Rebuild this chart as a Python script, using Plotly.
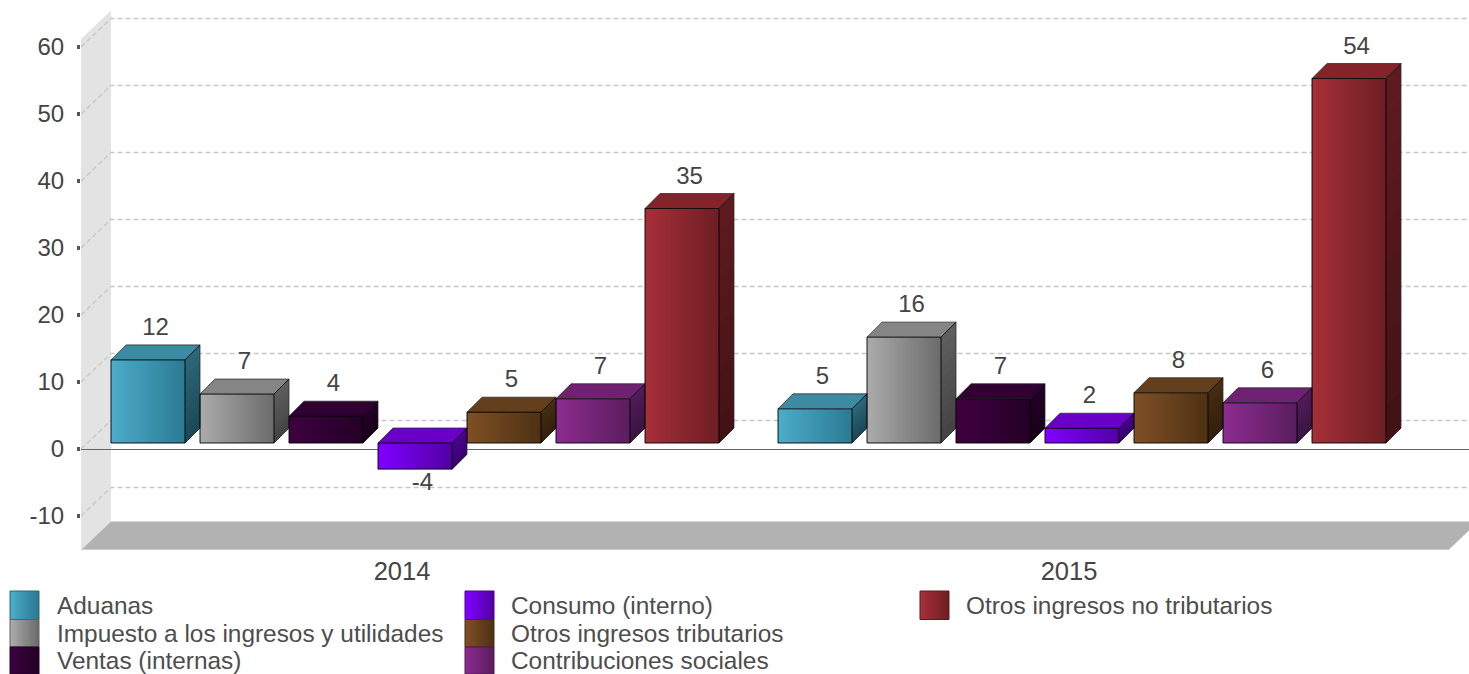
import plotly.graph_objects as go

years = ["2014", "2015"]
series_names = ["Aduanas", "Impuesto a los ingresos y utilidades", "Ventas (internas)",
                "Consumo (interno)", "Otros ingresos tributarios", "Contribuciones sociales",
                "Otros ingresos no tributarios"]
aduanas = [12.4, 5.1]
impuesto = [7.3, 15.8]
ventas = [4.0, 6.6]
consumo = [-3.9, 2.2]
otros_trib = [4.6, 7.5]
contribuciones = [6.6, 6.0]
otros_no_trib = [35.0, 54.4]
series_values = [aduanas, impuesto, ventas, consumo, otros_trib, contribuciones, otros_no_trib]
y_ticks = [-10, 0, 10, 20, 30, 40, 50, 60]

# style: front-left, front-right, top, side-top, side-bottom
palette = [
    ("#4BACC9", "#2C7A94", "#3D8BA3", "#2C6779", "#1B4956"),
    ("#AAAAAA", "#6C6C6C", "#858585", "#5E5E5E", "#444444"),
    ("#3F0040", "#230026", "#300033", "#230026", "#18001A"),
    ("#8000FF", "#5200A6", "#6A00C8", "#4A0090", "#3A0070"),
    ("#7F4F25", "#4E3214", "#643F1D", "#452C12", "#33200C"),
    ("#8C2B90", "#5A1E5E", "#702272", "#4F1B58", "#3C1444"),
    ("#A62F38", "#6E1E24", "#84232A", "#5E1A1F", "#431216"),
]

W, H = 1469, 674
PL, PR, PT, PB = 81, 1469, 0, 550
XS, X0 = 667.0, 402.0   # px per category, px of first category
YS, Y0 = 6.7, 449.0     # px per unit, px of zero
BAR_W, BAR_STEP, BAR_START = 74, 89, 148
DX, DY = 15, 15         # bar depth
WX, WY = 30, 28.5       # wall depth
BASE = 6 / YS
FONT = "Liberation Sans"


def ux(px):
    return px / XS


def uy(px):
    return px / YS


def hexrgb(c):
    return tuple(int(c[i:i + 2], 16) for i in (1, 3, 5))


def mix(a, b, t):
    ra, rb = hexrgb(a), hexrgb(b)
    return "rgb(%d,%d,%d)" % tuple(round(p + (q - p) * t) for p, q in zip(ra, rb))


fig = go.Figure()
common = dict(hoverinfo="skip", showlegend=False)
N_SLICES = 37
xleft, xright = (PL - X0) / XS, (PR - X0) / XS

for si, (vals, pal) in enumerate(zip(series_values, palette)):
    centers = [g + (BAR_START + BAR_STEP * si - X0) / XS for g in range(len(years))]
    fl, fr, ctop, cs1, cs2 = pal
    # front face: painter-style slices carrying the horizontal gradient
    for k in range(N_SLICES):
        t = k / (N_SLICES - 1)
        start = -BAR_W / 2 + k * BAR_W / N_SLICES
        wid = BAR_W / 2 - start
        fig.add_trace(go.Bar(
            x=[c + ux(start + wid / 2) for c in centers],
            y=vals, base=[BASE] * len(vals), width=[ux(wid)] * len(vals),
            marker=dict(color=mix(fl, fr, t), line=dict(width=0)), **common))
    for c, v in zip(centers, vals):
        x0, x1 = c - ux(BAR_W / 2), c + ux(BAR_W / 2)
        hi, lo = max(BASE, BASE + v), min(BASE, BASE + v)
        ddx, ddy = ux(DX), uy(DY)
        # top
        fig.add_trace(go.Scatter(
            x=[x0, x0 + ddx, x1 + ddx, x1, x0], y=[hi, hi + ddy, hi + ddy, hi, hi],
            mode="lines", fill="toself", fillcolor=ctop, line=dict(width=0), **common))
        # side, vertical gradient by nested slices
        n = 10
        for k in range(n):
            t = k / (n - 1)
            h = hi - (hi - lo) * k / n
            fig.add_trace(go.Scatter(
                x=[x1, x1 + ddx, x1 + ddx, x1, x1], y=[h, h + ddy, lo + ddy, lo, h],
                mode="lines", fill="toself", fillcolor=mix(cs1, cs2, t), line=dict(width=0), **common))
        # outer back edge
        fig.add_trace(go.Scatter(
            x=[x0, x0 + ddx, x1 + ddx, x1 + ddx, x1],
            y=[hi, hi + ddy, hi + ddy, lo + ddy, lo],
            mode="lines", line=dict(color="rgba(40,40,40,0.75)", width=1), **common))
        # front rectangle + inner edge
        fig.add_trace(go.Scatter(
            x=[x0, x1, x1, x0, x0, None, x1, x1 + ddx],
            y=[hi, hi, lo, lo, hi, None, hi, hi + ddy],
            mode="lines", line=dict(color="rgba(0,0,0,0.9)", width=1), **common))
    # data labels
    fig.add_trace(go.Scatter(
        x=[c + ux(7.5) for c in centers],
        y=[(BASE + v + uy(31)) if v >= 0 else (BASE + v - uy(15)) for v in vals],
        mode="text", text=[str(round(v)) for v in vals], textposition="middle center",
        textfont=dict(family=FONT, size=24, color="#444444"),
        cliponaxis=False, **common))

shapes = []
wall_top, wall_bot = (Y0 - 39) / YS, (Y0 - 550) / YS
shapes.append(dict(type="path", xref="x", yref="y", layer="below", line=dict(width=0), fillcolor="#E3E3E3",
                   path=f"M {xleft} {wall_bot} L {xleft} {wall_top} L {xleft + ux(WX)} {wall_top + uy(WY)} "
                        f"L {xleft + ux(WX)} {wall_bot + uy(WY)} Z"))
fr_x = (1448.5 - X0) / XS
shapes.append(dict(type="path", xref="x", yref="y", layer="below", line=dict(width=0), fillcolor="#B2B2B2",
                   path=f"M {xleft} {wall_bot} L {xleft + ux(WX)} {wall_bot + uy(WY)} "
                        f"L {fr_x + ux(WX)} {wall_bot + uy(WY)} L {fr_x} {wall_bot} Z"))
shapes.append(dict(type="line", xref="x", yref="y", layer="below", x0=xleft, x1=fr_x,
                   y0=wall_bot, y1=wall_bot, line=dict(color="#D0D0D0", width=1.5)))
for tv in y_ticks:
    shapes.append(dict(type="path", xref="x", yref="y", layer="below", fillcolor="rgba(0,0,0,0)",
                       line=dict(color="#C8C8C8", width=1.5, dash="5px,3px"),
                       path=f"M {xleft} {tv} L {xleft + ux(WX)} {tv + uy(WY)} L {xright} {tv + uy(WY)}"))


def paper_x(px):
    return (px - PL) / (PR - PL)


def paper_y(py):
    return (PB - py) / (PB - PT)


annotations = []
legend_cols = [(10, 57), (465, 511), (920, 966)]
legend_rows = [(591, 619.5, 605), (619.5, 647, 633.5), (647, 674, 660.5)]
for si, name in enumerate(series_names):
    col, row = legend_cols[si // 3], legend_rows[si % 3]
    fl, fr = palette[si][0], palette[si][1]
    n = 15
    for k in range(n):
        sx0 = col[0] + k * 29 / n
        shapes.append(dict(type="rect", xref="paper", yref="paper", layer="above",
                           x0=paper_x(sx0), x1=paper_x(col[0] + 29), y0=paper_y(row[0]), y1=paper_y(row[1]),
                           fillcolor=mix(fl, fr, k / (n - 1)), line=dict(width=0)))
    shapes.append(dict(type="rect", xref="paper", yref="paper", layer="above",
                       x0=paper_x(col[0]), x1=paper_x(col[0] + 29), y0=paper_y(row[0]), y1=paper_y(row[1]),
                       fillcolor="rgba(0,0,0,0)", line=dict(color=palette[si][3], width=1)))
    annotations.append(dict(xref="paper", yref="paper", x=paper_x(col[1]), y=paper_y(row[2]),
                            text=name, showarrow=False, xanchor="left", yanchor="middle",
                            borderpad=0, borderwidth=0,
                            font=dict(family=FONT, size=24.4, color="#4D4D4D")))

fig.update_layout(
    width=W, height=H, autosize=False,
    margin=dict(l=PL, r=W - PR, t=PT, b=H - PB, pad=0),
    paper_bgcolor="white", plot_bgcolor="white",
    barmode="overlay", bargap=0, showlegend=False,
    shapes=shapes, annotations=annotations,
    font=dict(family=FONT, size=24, color="#444444"),
    xaxis=dict(range=[xleft, xright], tickvals=list(range(len(years))), ticktext=years,
               showgrid=False, zeroline=False, showline=False, ticks="", ticklabelstandoff=3,
               tickfont=dict(family=FONT, size=25.5, color="#444444"), fixedrange=True),
    yaxis=dict(range=[(Y0 - PB) / YS, (Y0 - PT) / YS], tickvals=y_ticks, ticktext=[str(v) for v in y_ticks],
               showgrid=False, zeroline=True, zerolinecolor="#666666", zerolinewidth=1, showline=False,
               ticks="outside", ticklen=3, tickwidth=4, tickcolor="#555555", ticklabelstandoff=8,
               tickfont=dict(family=FONT, size=24, color="#444444"), fixedrange=True),
)

fig.write_html("out.html", config=dict(displayModeBar=False),
               post_script="document.body.style.margin='0';document.documentElement.style.overflow='hidden';")
